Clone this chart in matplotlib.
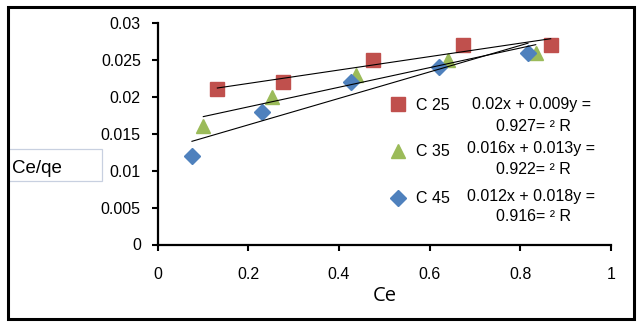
import numpy as np
import matplotlib
matplotlib.use("Agg")
import matplotlib.pyplot as plt
from matplotlib.patches import Rectangle
from matplotlib.lines import Line2D

# ---- data ----
series_names = ["C 25", "C 35", "C 45"]
ce_25 = [0.132, 0.276, 0.475, 0.674, 0.867]
qe_25 = [0.021, 0.022, 0.025, 0.027, 0.027]
ce_35 = [0.101, 0.252, 0.437, 0.641, 0.834]
qe_35 = [0.016, 0.020, 0.023, 0.025, 0.026]
ce_45 = [0.076, 0.230, 0.427, 0.621, 0.817]
qe_45 = [0.012, 0.018, 0.022, 0.024, 0.026]
equations = [("0.02x + 0.009y =", "0.927= ² R"),
             ("0.016x + 0.013y =", "0.922= ² R"),
             ("0.012x + 0.018y =", "0.916= ² R")]
xticks = [0, 0.2, 0.4, 0.6, 0.8, 1]
yticks = [0, 0.005, 0.01, 0.015, 0.02, 0.025, 0.03]
ytick_labels = ["0", "0.005", "0.01", "0.015", "0.02", "0.025", "0.03"]
xtick_labels = ["0", "0.2", "0.4", "0.6", "0.8", "1"]

colors = ["#C0504D", "#9BBB59", "#4F81BD"]
markers = ["s", "^", "D"]
msizes = [9.5, 10.5, 8]

W, H = 641, 325
fig = plt.figure(figsize=(W / 100, H / 100), dpi=100)
fig.patch.set_facecolor("white")

def fx(px):
    return px / W

def fy(py):
    return 1 - py / H

ax = fig.add_axes([fx(157.5), fy(244.5), fx(611) - fx(157.5), fy(23) - fy(244.5)])
ax.set_xlim(0, 1)
ax.set_ylim(0, 0.03)

xs = [ce_25, ce_35, ce_45]
ys = [qe_25, qe_35, qe_45]
handles = []
for x, y, c, m, ms in zip(xs, ys, colors, markers, msizes):
    x = np.array(x); y = np.array(y)
    k, b = np.polyfit(x, y, 1)
    xl = np.array([x.min(), x.max()])
    ax.plot(xl, k * xl + b, color="black", lw=0.8, zorder=3)
    ax.plot(x, y, linestyle="none", marker=m, ms=ms, color=c, mec=c, zorder=2)
    handles.append(Line2D([], [], linestyle="none", marker=m, ms=ms, color=c, mec=c))

tick_font = dict(family="Liberation Sans", size=11.5)
ax.set_xticks(xticks)
ax.set_xticklabels(xtick_labels, fontdict=tick_font)
ax.set_yticks(yticks)
ax.set_yticklabels(ytick_labels, fontdict=tick_font)
ax.tick_params(axis="y", direction="out", length=4, width=1.5, pad=8)
ax.tick_params(axis="x", direction="out", length=4, width=1.5, pad=12)
for s in ["top", "right"]:
    ax.spines[s].set_visible(False)
for s in ["left", "bottom"]:
    ax.spines[s].set_linewidth(1.6)

ax.set_xlabel("Ce", family="Open Sans", fontsize=14.5, labelpad=3)

leg = ax.legend(handles, series_names, loc="upper left", frameon=False,
                prop=dict(family="Liberation Sans", size=11.5),
                labelspacing=2.0, handletextpad=0.55, handlelength=1.2,
                borderaxespad=0, borderpad=0)
leg.set_bbox_to_anchor((fx(388), fy(97.5)), transform=fig.transFigure)

eq_y = [(105, 126.7), (149, 169.3), (196.7, 216.7)]
for (l1, l2), (y1, y2) in zip(equations, eq_y):
    fig.text(fx(531), fy(y1), l1, ha="center", va="center",
             family="Liberation Sans", fontsize=11.5)
    fig.text(fx(533), fy(y2), l2, ha="center", va="center",
             family="Liberation Sans", fontsize=11.5)

# y-axis title box
fig.patches.append(Rectangle((fx(8), fy(180.5)), fx(102) - fx(8), fy(149) - fy(180.5),
                             transform=fig.transFigure, facecolor="white",
                             edgecolor="#C8D0E0", lw=0.9))
fig.text(fx(12), fy(168.5), "Ce/qe", ha="left", va="center",
         family="Liberation Sans", fontsize=13.5)

# outer frame
fig.patches.append(Rectangle((fx(8), fy(319)), fx(634) - fx(8), fy(7) - fy(319),
                             transform=fig.transFigure, facecolor="none",
                             edgecolor="black", lw=2.2))

fig.savefig("out.png", dpi=100)
